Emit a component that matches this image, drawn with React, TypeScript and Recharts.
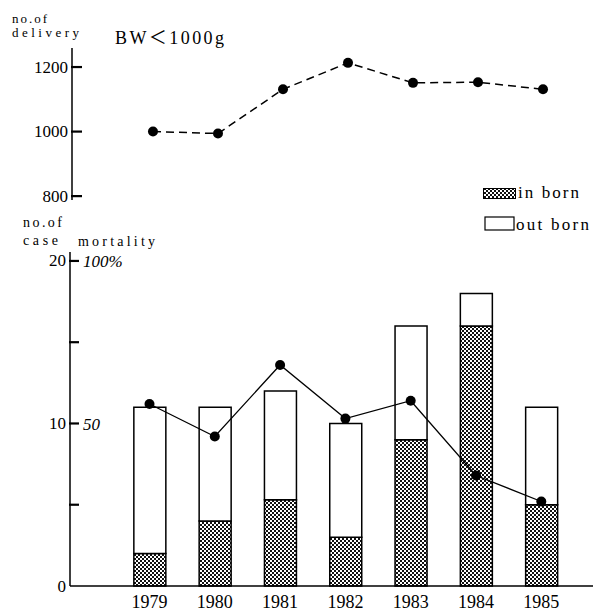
import React from 'react';
import { ComposedChart, LineChart, Line, Bar, XAxis, YAxis } from 'recharts';

const years = ['1979', '1980', '1981', '1982', '1983', '1984', '1985'];
const deliveries = [1000, 994, 1131, 1213, 1151, 1153, 1131];
const inBorn = [2, 4, 5.3, 3, 9, 16, 5];
const outBorn = [9, 7, 6.7, 7, 7, 2, 6];
const mortality = [56, 46, 68, 51.5, 57, 34, 26];
const deliveryTicks = [800, 1000, 1200];
const caseTicks = [0, 5, 10, 15, 20];
const caseTickLabels: Record<number, string> = { 0: '0', 10: '10', 20: '20' };
const mortalityTickLabels: Record<number, string> = { 10: '50', 20: '100%' };
const seriesNames = ['in born', 'out born'];
const title = 'BW\uFF1C1000g';

const topXDomain = [1977.754, 1985.769];
const bottomXDomain = [1977.7826, 1985.7917];

const FONT = '"Liberation Serif", serif';
const TITLE_FONT = '"Liberation Serif", "Noto Sans CJK JP", serif';
const txt = (size: number, extra: React.CSSProperties = {}): React.CSSProperties => ({
  fontFamily: FONT,
  fontSize: size,
  fill: '#000',
  ...extra,
});

const topData = years.map((y, i) => ({ x: Number(y), deliveries: deliveries[i] }));
const bottomData = years.map((y, i) => ({
  x: Number(y),
  inBorn: inBorn[i],
  outBorn: outBorn[i],
  mortality: mortality[i],
}));

const TopTick = (props: any) => {
  const { x, y, payload } = props;
  return (
    <g>
      <line x1={x + 3} x2={x + 14} y1={y} y2={y} stroke="#000" strokeWidth={2.2} />
      <text x={x} y={y} textAnchor="end" dominantBaseline="central" fontFamily={FONT} fontSize={17} fill="#000">
        {String(payload.value)}
      </text>
    </g>
  );
};

const BottomTick = (props: any) => {
  const { x, y, payload } = props;
  const v = payload.value as number;
  return (
    <g>
      {v !== 0 && <line x1={x + 3} x2={x + 13} y1={y} y2={y} stroke="#000" strokeWidth={2.2} />}
      {caseTickLabels[v] && (
        <text x={x} y={y} textAnchor="end" dominantBaseline="central" fontFamily={FONT} fontSize={17} fill="#000">
          {caseTickLabels[v]}
        </text>
      )}
      {mortalityTickLabels[v] && (
        <text x={x + 17} y={y + 1} textAnchor="start" dominantBaseline="central" fontFamily={FONT} fontStyle="italic" fontSize={17} fill="#000">
          {mortalityTickLabels[v]}
        </text>
      )}
    </g>
  );
};

export default function App() {
  return (
    <div style={{ position: 'absolute', left: 0, top: 0, width: 593, height: 613, background: '#fff' }}>
      <svg width={0} height={0} style={{ position: 'absolute' }}>
        <defs>
          <pattern id="dotPattern" width={4} height={4} patternUnits="userSpaceOnUse">
            <rect width={4} height={4} fill="#fff" />
            <rect x={0} y={0} width={2} height={2} fill="#111" />
            <rect x={2} y={2} width={2} height={2} fill="#111" />
          </pattern>
        </defs>
      </svg>
      <div style={{ position: 'absolute', left: 0, top: 0 }}>
        <LineChart width={593} height={210} data={topData} margin={{ top: 48, right: 0, bottom: 10, left: 0 }}>
          <XAxis dataKey="x" type="number" domain={topXDomain} hide height={0} />
          <YAxis
            type="number"
            domain={[788, 1259]}
            ticks={deliveryTicks}
            width={72}
            tickSize={-10}
            tickMargin={14}
            tickLine={false}
            tick={TopTick}
            interval={0}
            axisLine={{ stroke: '#000', strokeWidth: 1.5 }}
          />
          <Line
            dataKey="deliveries"
            stroke="#000"
            strokeWidth={1.5}
            strokeDasharray="8 5"
            dot={{ r: 5, fill: '#000', stroke: 'none' }}
            isAnimationActive={false}
          />
        </LineChart>
      </div>
      <div style={{ position: 'absolute', left: 0, top: 0 }}>
        <ComposedChart width={593} height={613} data={bottomData} margin={{ top: 252, right: 0, bottom: 0, left: 0 }}>
          <XAxis
            dataKey="x"
            type="number"
            domain={bottomXDomain}
            ticks={years.map(Number)}
            tickFormatter={(v: number) => String(v)}
            height={27}
            tickSize={0}
            tickMargin={9}
            tickLine={false}
            interval={0}
            axisLine={{ stroke: '#000', strokeWidth: 1.5 }}
            tick={{ fill: '#000', fontSize: 18, fontFamily: FONT }}
          />
          <YAxis
            yAxisId="left"
            type="number"
            domain={[0, 20.55]}
            ticks={caseTicks}
            width={70}
            tickSize={-10}
            tickMargin={14}
            tickLine={false}
            tick={BottomTick}
            interval={0}
            axisLine={{ stroke: '#000', strokeWidth: 1.5 }}
          />
          <YAxis yAxisId="right" orientation="right" type="number" domain={[0, 102.75]} hide width={0} />
          <Bar yAxisId="left" dataKey="inBorn" name={seriesNames[0]} stackId="a" barSize={32} fill="url(#dotPattern)" stroke="#000" strokeWidth={1.5} isAnimationActive={false} />
          <Bar yAxisId="left" dataKey="outBorn" name={seriesNames[1]} stackId="a" barSize={32} fill="#fff" stroke="#000" strokeWidth={1.5} isAnimationActive={false} />
          <Line
            yAxisId="right"
            dataKey="mortality"
            stroke="#000"
            strokeWidth={1.3}
            dot={{ r: 5, fill: '#000', stroke: 'none' }}
            isAnimationActive={false}
          />
        </ComposedChart>
      </div>
      <svg width={593} height={613} style={{ position: 'absolute', left: 0, top: 0, pointerEvents: 'none' }}>
        <g>
          <text x={12} y={23} style={txt(13)} textLength={35} lengthAdjust="spacing">no.of</text>
          <text x={12} y={37} style={txt(13)} textLength={67} lengthAdjust="spacing">delivery</text>
          <text x={115} y={43.5} style={{ ...txt(18), fontFamily: TITLE_FONT }} textLength={109} lengthAdjust="spacing">{title}</text>
          <text x={23} y={227} style={txt(14)} textLength={39} lengthAdjust="spacing">no.of</text>
          <text x={23} y={245} style={txt(14)} textLength={35} lengthAdjust="spacing">case</text>
          <text x={78} y={245.5} style={txt(14)} textLength={77} lengthAdjust="spacing">mortality</text>
          <rect x={483.5} y={188.5} width={32} height={10} fill="url(#dotPattern)" stroke="#000" strokeWidth={1} />
          <text x={518} y={197.5} style={txt(17)} textLength={61} lengthAdjust="spacing">{seriesNames[0]}</text>
          <rect x={485} y={217} width={29} height={13} fill="#fff" stroke="#000" strokeWidth={1.2} />
          <text x={516} y={229.5} style={txt(17)} textLength={73} lengthAdjust="spacing">{seriesNames[1]}</text>
        </g>
      </svg>
    </div>
  );
}
